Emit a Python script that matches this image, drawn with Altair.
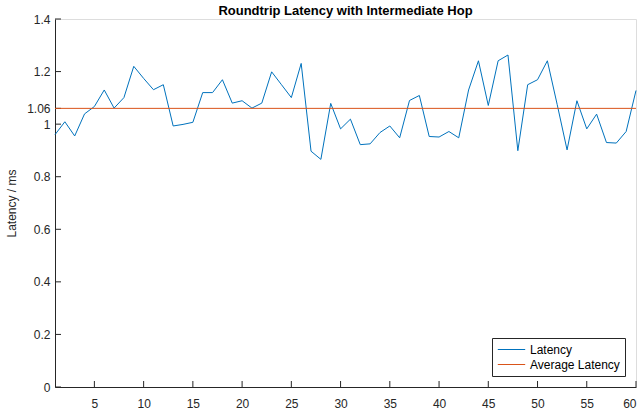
import altair as alt
import pandas as pd

# Roundtrip latency samples (ms), one per probe
probe = list(range(1, 61))
latency = [
    0.960, 1.009, 0.955, 1.039, 1.067, 1.130, 1.061, 1.101, 1.220, 1.174,
    1.131, 1.150, 0.993, 0.999, 1.007, 1.120, 1.120, 1.169, 1.080, 1.089,
    1.061, 1.080, 1.199, 1.150, 1.101, 1.231, 0.897, 0.866, 1.079, 0.982,
    1.019, 0.922, 0.925, 0.968, 0.993, 0.948, 1.090, 1.109, 0.953, 0.951,
    0.972, 0.948, 1.130, 1.241, 1.071, 1.241, 1.263, 0.899, 1.150, 1.169,
    1.241, 1.074, 0.902, 1.089, 0.982, 1.038, 0.930, 0.928, 0.972, 1.128,
]
average_latency = 1.06

y_ticks = [0, 0.2, 0.4, 0.6, 0.8, 1.0, 1.06, 1.2, 1.4]
x_ticks = [5, 10, 15, 20, 25, 30, 35, 40, 45, 50, 55, 60]

series_names = ["Latency", "Average Latency"]
series_colors = ["#0072BD", "#D95319"]

W, H = 581, 368
FONT = "Liberation Sans"
LEGEND_FONT = "Arial"
AX = "#262626"

lat_df = pd.DataFrame({"probe": probe, "latency": latency, "series": "Latency"})
avg_df = pd.DataFrame({"latency": [average_latency], "series": ["Average Latency"]})
ytick_df = pd.DataFrame({"v": y_ticks})
xtick_df = pd.DataFrame({"v": x_ticks})

x_scale = alt.Scale(domain=[1, 60], nice=False, zero=False)
y_scale = alt.Scale(domain=[0, 1.4], nice=False)
color_scale = alt.Scale(domain=series_names, range=series_colors)

x_axis = alt.Axis(values=x_ticks, ticks=False, grid=False, labelPadding=11,
                  domainColor=AX, domainWidth=1, labelColor=AX,
                  labelFont=FONT, labelFontSize=12, title=None)
y_axis = alt.Axis(values=y_ticks, ticks=False, grid=False, labelPadding=5,
                  format=".3~g", labelOverlap=False,
                  domainColor=AX, domainWidth=1, labelColor=AX,
                  labelFont=FONT, labelFontSize=12,
                  title="Latency / ms", titleFont=FONT, titleFontSize=12,
                  titleFontWeight="normal", titleColor=AX, titlePadding=8)

legend = alt.Legend(title=None, orient="none", legendX=437, legendY=319,
                    symbolType="stroke", symbolSize=750, symbolStrokeWidth=1,
                    labelFont=LEGEND_FONT, labelFontSize=12, labelColor="#000000",
                    strokeColor=AX, fillColor="white", padding=5,
                    rowPadding=2, labelOffset=4, clipHeight=13)

# inward tick marks on both axes
yticks = alt.Chart(ytick_df).mark_rule(color=AX, strokeWidth=1).encode(
    y=alt.Y("v:Q", scale=y_scale, axis=y_axis),
    x=alt.value(0), x2=alt.value(6),
)
xticks = alt.Chart(xtick_df).mark_rule(color=AX, strokeWidth=1).encode(
    x=alt.X("v:Q", scale=x_scale, axis=x_axis),
    y=alt.value(H), y2=alt.value(H - 6),
)

line = alt.Chart(lat_df).mark_line(strokeWidth=1).encode(
    x=alt.X("probe:Q", scale=x_scale, axis=x_axis),
    y=alt.Y("latency:Q", scale=y_scale, axis=y_axis),
    color=alt.Color("series:N", scale=color_scale, legend=legend, sort=series_names),
)
avg = alt.Chart(avg_df).mark_rule(strokeWidth=1).encode(
    y=alt.Y("latency:Q", scale=y_scale, axis=y_axis),
    color=alt.Color("series:N", scale=color_scale, legend=legend, sort=series_names),
)

chart = alt.layer(yticks, xticks, line, avg).properties(
    width=W, height=H,
    title=alt.TitleParams("Roundtrip Latency with Intermediate Hop",
                          font=FONT, fontSize=13, fontWeight="bold",
                          color="#000000", anchor="middle", offset=-5),
    autosize=alt.AutoSizeParams(type="none"),
    padding={"left": 55, "top": 19, "right": 7, "bottom": 30},
).configure_view(stroke=None).configure(background="white")

chart.save("out.html", embed_options={"renderer": "svg", "actions": False})
